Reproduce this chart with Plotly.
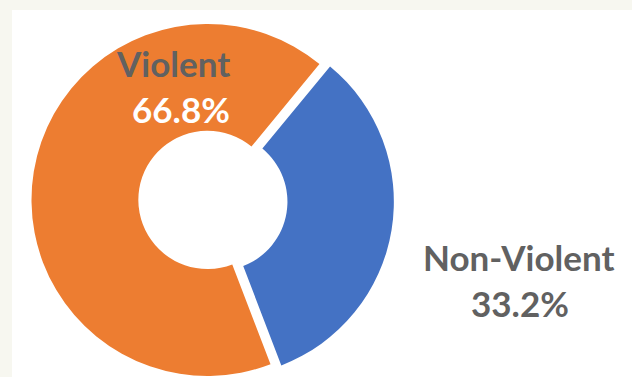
import math
import plotly.graph_objects as go

# Share of incidents by type
categories = ["Non-Violent", "Violent"]
shares = [33.2, 66.8]
slice_colors = ["#4472C4", "#ED7D31"]

W, H = 632, 377
START_ANGLE = 39.5          # clockwise from 12 o'clock, where the first slice begins
HOLE = 0.393
CX, CY, R = 207.5, 199.9, 176.0   # donut centre and radius, pixels from top-left
EXPLODE = 11.2              # how far the first slice is pulled out, pixels

LABEL_GRAY = "#616161"
FONT = "Lato"
FONT_SIZE = 35

# Direction of the exploded slice: along its bisector
total = sum(shares)
mid = math.radians(START_ANGLE + 360 * shares[0] / total / 2)
ex_cx = CX + EXPLODE * math.sin(mid)
ex_cy = CY - EXPLODE * math.cos(mid)
ex_r = min(R, H - ex_cy)


def domain(cx, cy, r):
    return dict(
        x=[(cx - r) / W, (cx + r) / W],
        y=[(H - cy - r) / H, (H - cy + r) / H],
    )


def colors_for(keep):
    return [c if i in keep else "rgba(0,0,0,0)" for i, c in enumerate(slice_colors)]


common = dict(
    labels=categories,
    values=shares,
    hole=HOLE,
    sort=False,
    direction="clockwise",
    rotation=START_ANGLE,
    textinfo="none",
    hoverinfo="label+percent",
    showlegend=False,
)

fig = go.Figure()
# the main ring (violent slice)
fig.add_trace(go.Pie(
    **common,
    domain=domain(CX, CY, R),
    marker=dict(colors=colors_for({1}), line=dict(width=0)),
))
# the pulled-out non-violent slice
fig.add_trace(go.Pie(
    **common,
    domain=domain(ex_cx, ex_cy, ex_r),
    marker=dict(colors=colors_for({0}), line=dict(width=0)),
))

pct = [f"{v:.1f}%" for v in shares]


def label(text, x, y, color):
    fig.add_annotation(
        text=f"<b>{text}</b>", x=x / W, y=1 - y / H, xref="paper", yref="paper",
        xanchor="center", yanchor="middle", showarrow=False,
        font=dict(family=FONT, size=FONT_SIZE, color=color),
    )


label(categories[1], 173, 63.0, LABEL_GRAY)
label(pct[1], 181.3, 109.0, "white")
label(categories[0], 518, 257.0, LABEL_GRAY)
label(pct[0], 519.5, 303, LABEL_GRAY)

fig.update_layout(
    width=W, height=H,
    margin=dict(l=0, r=0, t=0, b=0),
    paper_bgcolor="#F7F7F0",
    plot_bgcolor="white",
    shapes=[dict(
        type="rect", xref="paper", yref="paper",
        x0=12 / W, x1=1, y0=0, y1=1 - 10 / H,
        fillcolor="white", line=dict(width=0), layer="below",
    )],
)

fig.write_html("out.html")
